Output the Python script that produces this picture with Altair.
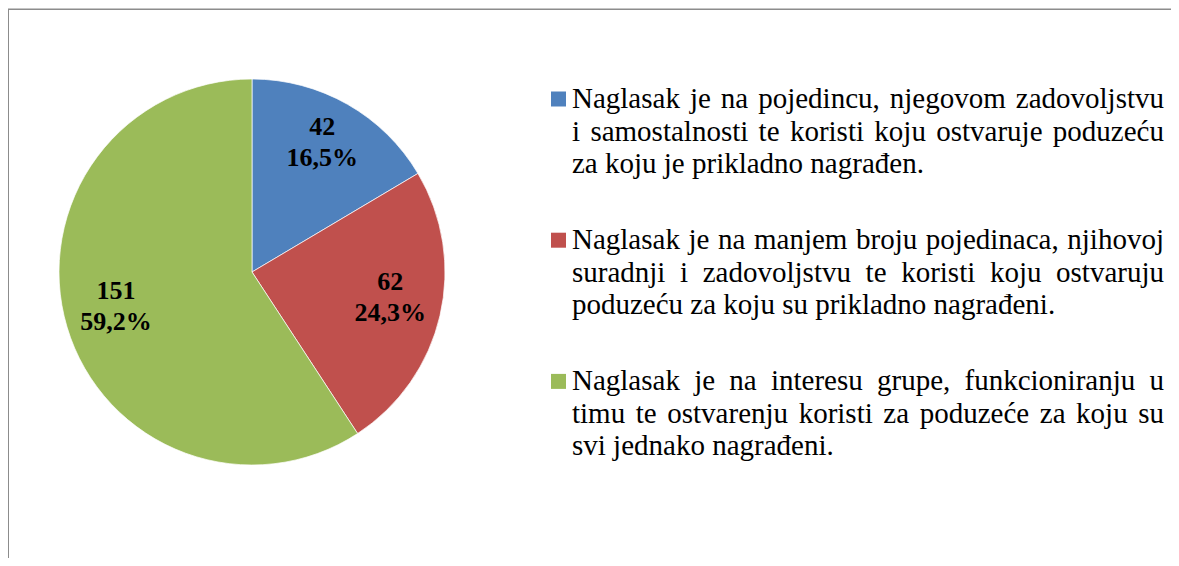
import altair as alt
import pandas as pd

# ---- data ----
values = [42, 62, 151]
colors = ["#4F81BD", "#C0504D", "#9BBB59"]
legend_lines = [
    ["Naglasak je na pojedincu, njegovom zadovoljstvu",
     "i samostalnosti te koristi koju ostvaruje poduzeću",
     "za koju je prikladno nagrađen."],
    ["Naglasak je na manjem broju pojedinaca, njihovoj",
     "suradnji i zadovoljstvu te koristi koju ostvaruju",
     "poduzeću  za koju su prikladno nagrađeni."],
    ["Naglasak je na interesu grupe, funkcioniranju u",
     "timu te ostvarenju koristi za poduzeće za koju su",
     "svi jednako nagrađeni."],
]
categories = [" ".join(p) for p in legend_lines]

# ---- layout / style ----
W, H = 1163, 550
CX, CY, R = 244, 264, 193
LABEL_R = 142
FONT = "Liberation Serif"
LEG_FS = 29
LABEL_FS = 26
LEG_X0, LEG_X1 = 564, 1156
LEG_Y0, LEG_LINE, LEG_PARA = 100, 32.5, 141.2
SQ_X = 550.5

total = sum(values)
pct = [f"{v / total * 100:.1f}".replace(".", ",") + "%" for v in values]

pie_df = pd.DataFrame({
    "idx": list(range(len(values))),
    "category": categories,
    "value": values,
    "label": [f"{v}\n{p}" for v, p in zip(values, pct)],
})

color_scale = alt.Scale(domain=categories, range=colors)

pie = alt.Chart(pie_df).mark_arc(outerRadius=R, stroke="white", strokeWidth=0.7).encode(
    theta=alt.Theta("value:Q", stack=True),
    order=alt.Order("idx:Q", sort="ascending"),
    color=alt.Color("category:N", scale=color_scale, legend=None),
    x=alt.value(CX),
    y=alt.value(CY),
)

labels = alt.Chart(pie_df).mark_text(
    radius=LABEL_R, font=FONT, fontSize=LABEL_FS, fontWeight="bold", dy=-22,
    color="black", lineBreak="\n", lineHeight=31, align="center", baseline="middle",
).encode(
    theta=alt.Theta("value:Q", stack=True),
    order=alt.Order("idx:Q", sort="ascending"),
    text="label:N",
    x=alt.value(CX),
    y=alt.value(CY),
)

# Times / Liberation Serif advance widths (em)
CW = {'a': .444, 'b': .5, 'c': .444, 'd': .5, 'e': .444, 'f': .333, 'g': .5, 'h': .5,
      'i': .278, 'j': .278, 'k': .5, 'l': .278, 'm': .778, 'n': .5, 'o': .5, 'p': .5,
      'q': .5, 'r': .333, 's': .389, 't': .278, 'u': .5, 'v': .5, 'w': .722, 'x': .5,
      'y': .5, 'z': .444, 'N': .722, 'ć': .444, 'đ': .5, ',': .25, '.': .25, ' ': .25}


def wwidth(s):
    return sum(CW.get(c, .5) for c in s) * LEG_FS


rows = []
sq_rows = []
for pi, para in enumerate(legend_lines):
    y_first = LEG_Y0 + pi * LEG_PARA
    sq_rows.append({"category": categories[pi], "x": SQ_X, "y": y_first - 9})
    for li, line in enumerate(para):
        y = y_first + li * LEG_LINE
        if li < len(para) - 1:
            words = line.split()
            ws = [wwidth(w) for w in words]
            gap = (LEG_X1 - LEG_X0 - sum(ws)) / (len(words) - 1)
            x = LEG_X0
            for w, wd in zip(words, ws):
                rows.append({"t": w, "x": x, "y": y})
                x += wd + gap
        else:
            rows.append({"t": line, "x": LEG_X0, "y": y})

leg_text = alt.Chart(pd.DataFrame(rows)).mark_text(
    font=FONT, fontSize=LEG_FS, align="left", baseline="alphabetic", color="black"
).encode(
    x=alt.X("x:Q", scale=None),
    y=alt.Y("y:Q", scale=None),
    text="t:N",
)

leg_sq = alt.Chart(pd.DataFrame(sq_rows)).mark_square(size=225, opacity=1, filled=True).encode(
    x=alt.X("x:Q", scale=None),
    y=alt.Y("y:Q", scale=None),
    color=alt.Color("category:N", scale=color_scale, legend=None),
)

border_top = alt.Chart(pd.DataFrame({"a": [0]})).mark_rule(color="#8c8c8c", strokeWidth=1.5).encode(
    x=alt.value(0), x2=alt.value(W), y=alt.value(1.3)
)
border_left = alt.Chart(pd.DataFrame({"a": [0]})).mark_rule(color="#8c8c8c", strokeWidth=2).encode(
    x=alt.value(0), y=alt.value(1), y2=alt.value(H)
)

chart = alt.layer(pie, labels, leg_sq, leg_text, border_top, border_left).properties(
    width=W, height=H, padding=0, autosize=alt.AutoSizeParams(type="none")
).configure_view(stroke=None)

chart.save("out.html", embed_options={"renderer": "svg", "actions": False})
